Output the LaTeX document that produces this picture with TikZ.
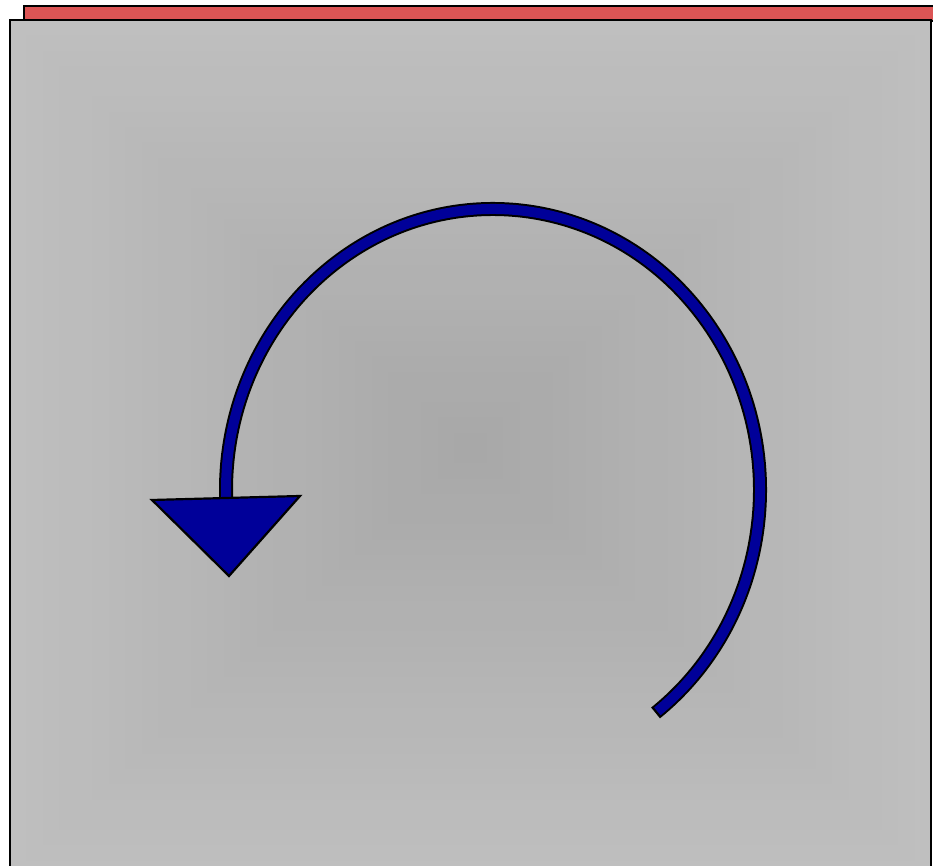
\documentclass[tikz,border=0pt]{standalone}
\usetikzlibrary{calc}
\definecolor{edgegray}{RGB}{191,191,191}
\definecolor{centergray}{RGB}{168,168,168}
\definecolor{barred}{RGB}{220,85,85}
\definecolor{arrowblue}{RGB}{0,0,153}
\tikzset{
	outline/.style={draw=black, line width=2.2pt}
}
\tikzset{
	turnband/.style={line width=#1, line cap=butt}
}

\begin{document}
\begin{tikzpicture}[x=1pt,y=1pt]
      \useasboundingbox (0,0) rectangle (933,866);
      % red strip behind the panel
      \draw[outline, fill=barred] (24,845) rectangle (950,860);
      % panel, shaded in steps towards its middle
      \coordinate (mid) at (470.5,418);
      \fill[edgegray] (10,-10) rectangle (931,846);
      \foreach \i in {1,...,27}{
        \pgfmathsetmacro\s{1-\i/28}
        \pgfmathtruncatemacro\p{100*\i/27}
        \fill[centergray!\p!edgegray] ($(mid)+(-460.5*\s,-428*\s)$) rectangle ($(mid)+(460.5*\s,428*\s)$);
      }
      \draw[outline] (10,-10) rectangle (931,846);
      % turning arrow
      \coordinate (hub) at (493,376);
      \draw[turnband=14pt, black] (hub) ++(-52.5:267 and 281) arc[start angle=-52.5, end angle=183, x radius=267, y radius=281];
      \draw[turnband=10pt, arrowblue] (hub) ++(-52:267 and 281) arc[start angle=-52, end angle=183, x radius=267, y radius=281];
      \draw[outline, fill=arrowblue] (152,366) -- (300,370) -- (229,290) -- cycle;
    \end{tikzpicture}
\end{document}
